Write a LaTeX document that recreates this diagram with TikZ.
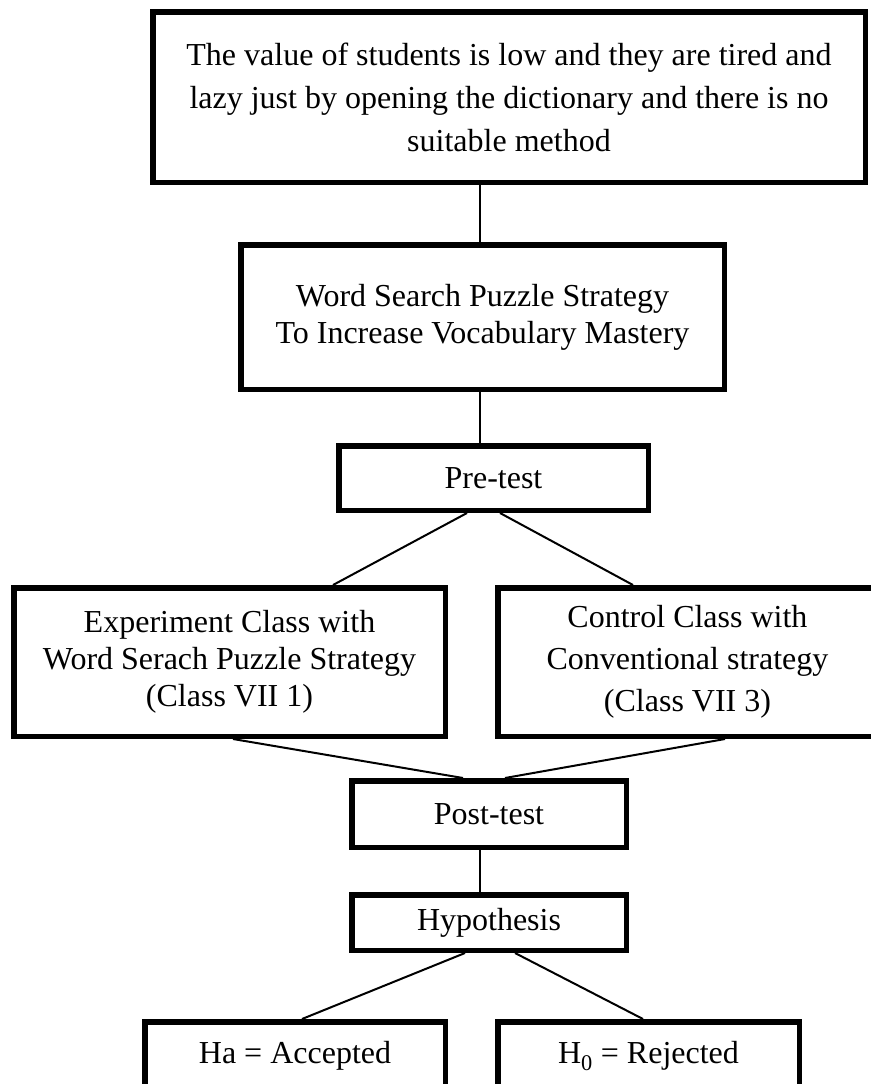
\documentclass[tikz,border=0pt]{standalone}
\usepackage{fontspec}
\setmainfont{Liberation Serif}
\usepackage{xcolor}
\usepackage{tikz}
\usetikzlibrary{arrows, positioning}

\begin{document}
\begin{tikzpicture}[
  x=1pt, y=-1pt,
  block/.style={
    rectangle,
    draw=black,
    line width=5.5pt,
    inner sep=0pt,
    font=\fontsize{32}{#1}\selectfont,
    align=center
  },
  block/.default=37,
  link/.style={
    line width=2pt,
    draw=black
  }
]
\useasboundingbox (0,0) rectangle (870,1084);

% Problem and strategy
\node[block=43, minimum width=712.5pt, minimum height=170.5pt] (problem) at (509,97)
  {The value of students is low and they are tired and\\
   lazy just by opening the dictionary and there is no\\
   suitable method};
\node[block, minimum width=483.5pt, minimum height=144.5pt] (strategy) at (482.5,317)
  {Word Search Puzzle Strategy\\To Increase Vocabulary Mastery};
\node[block, minimum width=309.5pt, minimum height=64.5pt] (pretest) at (493.5,478) {Pre-test};

% Classes
\node[block, minimum width=431.5pt, minimum height=148.5pt] (experiment) at (229.5,662)
  {Experiment Class with\\Word Serach Puzzle Strategy\\(Class VII 1)};
\node[block=42, minimum width=379.5pt, minimum height=148.5pt] (control) at (687.5,662)
  {Control Class with\\Conventional strategy\\(Class VII 3)};

% Result
\node[block, minimum width=274.5pt, minimum height=66.5pt] (posttest) at (489,814) {Post-test};
\node[block, minimum width=274.5pt, minimum height=55.5pt] (hypothesis) at (489,922.5) {Hypothesis};
\node[block, minimum width=300.5pt, minimum height=68.5pt] (accepted) at (295,1056) {Ha = Accepted};
\node[block, minimum width=301.5pt, minimum height=68.5pt] (rejected) at (648.5,1056) {H\textsubscript{0} = Rejected};

% Connections
\draw[link] ([xshift=-2.5pt]strategy.north) -- ([xshift=-2.5pt]strategy.north |- problem.south);
\draw[link] ([xshift=-2.5pt]strategy.south) -- ([xshift=-2.5pt]strategy.south |- pretest.north);

\draw[link] ([xshift=-26.5pt]pretest.south) -- ([xshift=103.5pt]experiment.north);
\draw[link] ([xshift=6.5pt]pretest.south) -- ([xshift=-54.5pt]control.north);

\draw[link] ([xshift=3.5pt]experiment.south) -- ([xshift=-26pt]posttest.north);
\draw[link] ([xshift=37.5pt]control.south) -- ([xshift=16pt]posttest.north);

\draw[link] ([xshift=-9pt]posttest.south) -- ([xshift=-9pt]hypothesis.north);

\draw[link] ([xshift=-24pt]hypothesis.south) -- ([xshift=7pt]accepted.north);
\draw[link] ([xshift=26pt]hypothesis.south) -- ([xshift=-5.5pt]rejected.north);
\end{tikzpicture}
\end{document}
